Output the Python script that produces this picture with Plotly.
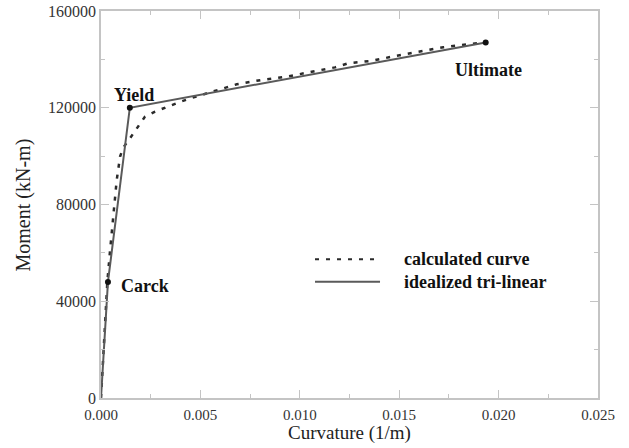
import plotly.graph_objects as go

# Calculated moment-curvature curve
calc_curv = [0.0, 0.00032, 0.00045, 0.00062, 0.00079, 0.00096, 0.00111, 0.00146, 0.0018,
             0.00221, 0.00272, 0.0033, 0.004, 0.0045, 0.00563, 0.00683, 0.00808, 0.00934,
             0.0106, 0.01177, 0.01244, 0.01362, 0.01487, 0.01605, 0.01722, 0.01848, 0.01935]
calc_moment = [0, 48100, 60500, 76400, 90100, 99800, 103400, 107400, 111500,
               116300, 118400, 120400, 122500, 123900, 126600, 129700, 131500, 132800,
               134900, 136700, 138400, 139400, 141500, 143200, 145000, 146300, 147000]

# Idealized tri-linear
tri_curv = [0.0, 0.00035, 0.00145, 0.01935]
tri_moment = [0, 48000, 120000, 147000]

# Key points
pt_names = ["Carck", "Yield", "Ultimate"]
pt_curv = [0.00035, 0.00145, 0.01935]
pt_moment = [48000, 120000, 147000]

legend_labels = ["calculated curve", "idealized tri-linear"]

x_ticks = [0.0, 0.005, 0.010, 0.015, 0.020, 0.025]
x_ticktext = ["0.000", "0.005", "0.010", "0.015", "0.020", "0.025"]
y_ticks = [0, 40000, 80000, 120000, 160000]
y_ticktext = ["0", "40000", "80000", "120000", "160000"]

x_title = "Curvature (1/m)"
y_title = "Moment (kN-m)"

SERIF = "Liberation Serif, Times New Roman, serif"
AXC = "#c4c4c4"

fig = go.Figure()
fig.add_trace(go.Scatter(x=calc_curv, y=calc_moment, mode="lines",
                         line=dict(color="#2a2a2a", width=2.5, dash="4px,7px"),
                         showlegend=False))
fig.add_trace(go.Scatter(x=tri_curv, y=tri_moment, mode="lines",
                         line=dict(color="#5a5a5a", width=2),
                         showlegend=False))
fig.add_trace(go.Scatter(x=pt_curv, y=pt_moment, mode="markers",
                         marker=dict(color="#111111", size=6),
                         showlegend=False))

# point labels
offsets = {"Carck": (11, -4, "left"), "Yield": (4, 13, "center"), "Ultimate": (3, -28, "center")}
for n, cx, cy in zip(pt_names, pt_curv, pt_moment):
    dx, dy, anc = offsets[n]
    fig.add_annotation(x=cx, y=cy, text="<b>%s</b>" % n, showarrow=False,
                       xanchor=anc, yanchor="middle", xshift=dx, yshift=dy,
                       font=dict(family=SERIF, size=18, color="#111111"))

# manual legend
leg_y = [0.3584, 0.3005]
leg_dash = ["4px,7px", "solid"]
leg_col = ["#2a2a2a", "#5a5a5a"]
leg_w = [2, 2]
for lbl, ly, ds, c, w in zip(legend_labels, leg_y, leg_dash, leg_col, leg_w):
    fig.add_shape(type="line", xref="paper", yref="paper", x0=0.4306, x1=0.5614,
                  y0=ly, y1=ly, line=dict(color=c, width=w, dash=ds))
    fig.add_annotation(xref="paper", yref="paper", x=0.605, y=ly, text="<b>%s</b>" % lbl,
                       showarrow=False, xanchor="left", yanchor="middle",
                       font=dict(family=SERIF, size=18, color="#111111"))

# axis titles
fig.add_annotation(xref="paper", yref="paper", x=0.501, y=-0.091, text=x_title,
                   showarrow=False, xanchor="center", yanchor="middle",
                   font=dict(family=SERIF, size=19, color="#222222"))
fig.add_annotation(xref="paper", yref="paper", x=-0.155, y=0.5, text=y_title,
                   showarrow=False, xanchor="center", yanchor="middle", textangle=-90,
                   font=dict(family=SERIF, size=20, color="#222222"))

axis_common = dict(showgrid=False, zeroline=False, showline=True, linecolor=AXC,
                   linewidth=1.6, mirror="allticks", ticks="inside", ticklen=8,
                   tickwidth=1.3, tickcolor=AXC, automargin=False)

fig.update_xaxes(range=[0, 0.025], tickvals=x_ticks, ticktext=x_ticktext,
                 ticklabelstandoff=2,
                 tickfont=dict(family=SERIF, size=15, color="#333333"),
                 minor=dict(dtick=0.0025, ticks="inside", ticklen=4, tickcolor=AXC),
                 **axis_common)
fig.update_yaxes(range=[0, 160000], tickvals=y_ticks, ticktext=y_ticktext,
                 tickfont=dict(family=SERIF, size=16, color="#333333"),
                 minor=dict(dtick=20000, ticks="inside", ticklen=4, tickcolor=AXC),
                 **axis_common)

fig.update_layout(width=629, height=448, margin=dict(l=101, r=31, t=11, b=50),
                  plot_bgcolor="white", paper_bgcolor="white")

fig.write_html("out.html", config={"displayModeBar": False},
               post_script="document.body.style.margin='0';")
